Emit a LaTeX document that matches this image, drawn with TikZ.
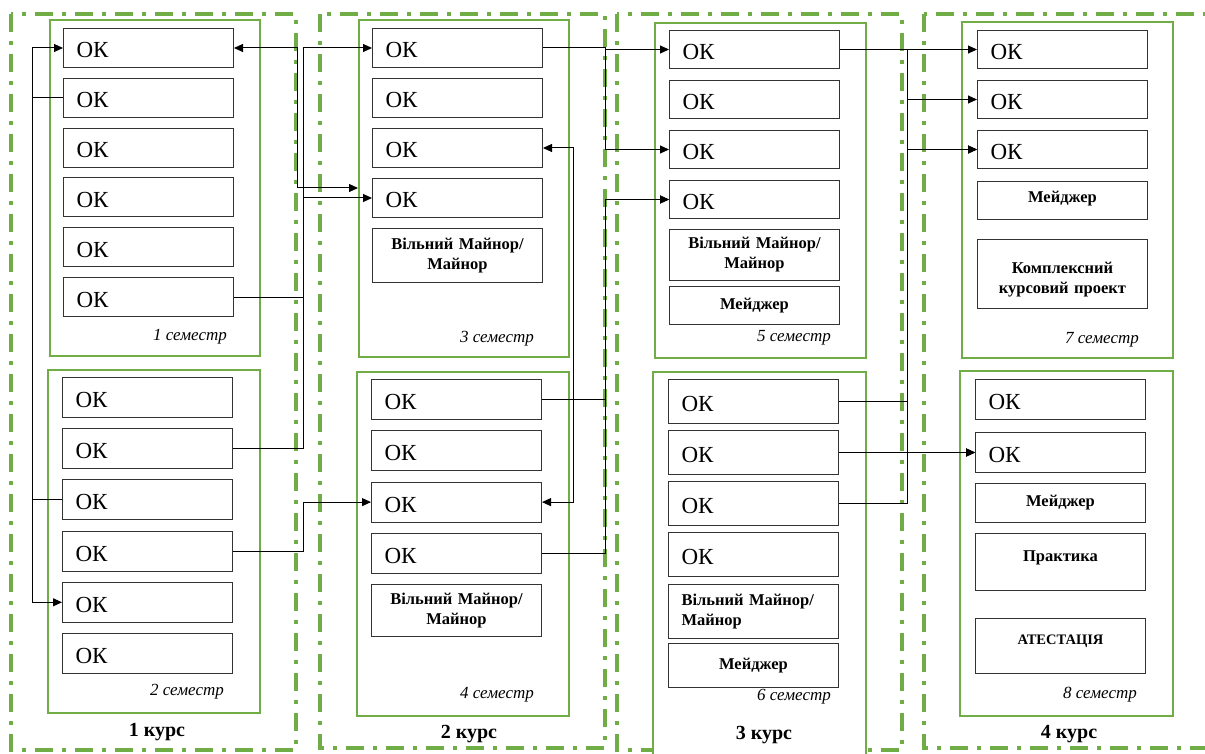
\documentclass[tikz,border=0pt]{standalone}
\usepackage{fontspec}
\setmainfont{Liberation Serif}
\usetikzlibrary{arrows.meta,positioning}

\definecolor{kursgreen}{HTML}{70AD47}

\begin{document}
\begin{tikzpicture}[
  x=1pt, y=-1pt,
  kurs/.style={draw=kursgreen, line width=3.5pt, dash pattern=on 18pt off 9pt on 4pt off 9pt},
  sem/.style={draw=kursgreen, line width=1.4pt, fill=white},
  okbox/.style={rectangle, draw=black!80, line width=1pt, minimum width=170pt, minimum height=39pt, inner xsep=13pt, text width=144pt, text height=20pt, text depth=0pt, align=left, font=\fontsize{23}{26}\selectfont},
  subj/.style={rectangle, draw=black!80, line width=1pt, minimum width=170pt, inner xsep=5pt, text width=160pt, align=center, font=\bfseries\fontsize{16.5}{20}\selectfont},
  semlabel/.style={font=\itshape\fontsize{17}{19}\selectfont},
  kurslabel/.style={font=\bfseries\fontsize{20}{22}\selectfont},
  arrow/.style={-{Triangle[length=9pt,width=8pt]}, line width=1pt},
  biarrow/.style={{Triangle[length=9pt,width=8pt]}-{Triangle[length=9pt,width=8pt]}, line width=1pt}
]
\useasboundingbox (0,0) rectangle (1205,754);
\clip (0,0) rectangle (1205,754);

% Courses
\draw[kurs] (11,14) rectangle (296,750);
\draw[kurs] (320,14) rectangle (605,748);
\draw[kurs] (617,14) rectangle (902,750);
\draw[kurs] (924,14) rectangle (1225,748);

% Semesters
\draw[sem] (50,20) rectangle (260,356);
\draw[sem] (48,370) rectangle (260,713);
\draw[sem] (359,20) rectangle (569,357);
\draw[sem] (357,372) rectangle (569,716);
\draw[sem] (655,23) rectangle (866,358);
\draw[sem] (653,372) rectangle (866,770);
\draw[sem] (962,22) rectangle (1173,358);
\draw[sem] (960,371) rectangle (1173,716);

% 1 semester
\node[okbox, anchor=north west] (s1a) at (63,28) {ОК};
\node[okbox, below=9.8pt of s1a] (s1b) {ОК};
\node[okbox, below=9.8pt of s1b] (s1c) {ОК};
\node[okbox, below=9.8pt of s1c] (s1d) {ОК};
\node[okbox, below=9.8pt of s1d] (s1e) {ОК};
\node[okbox, below=9.8pt of s1e] (s1f) {ОК};

% 2 semester
\node[okbox, minimum height=40pt, anchor=north west] (s2a) at (62,377) {ОК};
\node[okbox, minimum height=40pt, below=10.2pt of s2a] (s2b) {ОК};
\node[okbox, minimum height=40pt, below=10.2pt of s2b] (s2c) {ОК};
\node[okbox, minimum height=40pt, below=10.2pt of s2c] (s2d) {ОК};
\node[okbox, minimum height=40pt, below=10.2pt of s2d] (s2e) {ОК};
\node[okbox, minimum height=40pt, below=10.2pt of s2e] (s2f) {ОК};

% 3 semester
\node[okbox, anchor=north west] (s3a) at (372,28) {ОК};
\node[okbox, below=10pt of s3a] (s3b) {ОК};
\node[okbox, below=10pt of s3b] (s3c) {ОК};
\node[okbox, below=10pt of s3c] (s3d) {ОК};
\node[subj, minimum height=54pt, below=10pt of s3d] (s3v) {Вільний Майнор/\\Майнор};

% 4 semester
\node[okbox, minimum height=40pt, anchor=north west] (s4a) at (371,379) {ОК};
\node[okbox, minimum height=40pt, below=10.3pt of s4a] (s4b) {ОК};
\node[okbox, minimum height=40pt, below=10.3pt of s4b] (s4c) {ОК};
\node[okbox, minimum height=40pt, below=10.3pt of s4c] (s4d) {ОК};
\node[subj, minimum height=52pt, below=10pt of s4d] (s4v) {Вільний Майнор/\\Майнор};

% 5 semester
\node[okbox, minimum height=38pt, anchor=north west] (s5a) at (669,30) {ОК};
\node[okbox, minimum height=38pt, below=11pt of s5a] (s5b) {ОК};
\node[okbox, minimum height=38pt, below=11pt of s5b] (s5c) {ОК};
\node[okbox, minimum height=38pt, below=11pt of s5c] (s5d) {ОК};
\node[subj, minimum height=51pt, below=10pt of s5d] (s5v) {Вільний Майнор/\\Майнор};
\node[subj, minimum height=38pt, below=5pt of s5v] (s5m) {Мейджер};

% 6 semester
\node[okbox, minimum height=44pt, anchor=north west] (s6a) at (668,379) {ОК};
\node[okbox, minimum height=44pt, below=6pt of s6a] (s6b) {ОК};
\node[okbox, minimum height=44pt, below=6pt of s6b] (s6c) {ОК};
\node[okbox, minimum height=44pt, below=6pt of s6c] (s6d) {ОК};
\node[subj, minimum height=54pt, inner xsep=13pt, text width=144pt, align=left, below=7pt of s6d] (s6v) {Вільний Майнор/\\Майнор};
\node[subj, minimum height=44pt, below=4pt of s6v] (s6m) {Мейджер};

% 7 semester
\node[okbox, minimum height=38pt, anchor=north west] (s7a) at (977,30) {ОК};
\node[okbox, minimum height=38pt, below=11pt of s7a] (s7b) {ОК};
\node[okbox, minimum height=38pt, below=11pt of s7b] (s7c) {ОК};
\node[subj, minimum height=38pt, text depth=8pt, below=12pt of s7c] (s7m) {Мейджер};
\node[subj, minimum height=69pt, text depth=12pt, below=19pt of s7m] (s7k) {Комплексний\\курсовий проект};

% 8 semester
\node[okbox, minimum height=40pt, anchor=north west] (s8a) at (975,379) {ОК};
\node[okbox, minimum height=40pt, below=12pt of s8a] (s8b) {ОК};
\node[subj, minimum height=39pt, below=10pt of s8b] (s8m) {Мейджер};
\node[subj, minimum height=57pt, text depth=11pt, below=10pt of s8m] (s8p) {Практика};
\node[subj, minimum height=55pt, text depth=13pt, font=\bfseries\fontsize{14.5}{18}\selectfont, below=27pt of s8p] (s8t) {АТЕСТАЦІЯ};

% Labels
\node[semlabel] (l1) at (190,337) {1 семестр};
\node[semlabel] (l2) at (187,692) {2 семестр};
\node[semlabel] (l3) at (497,339) {3 семестр};
\node[semlabel] (l4) at (497,695) {4 семестр};
\node[semlabel] (l5) at (794,338) {5 семестр};
\node[semlabel] (l6) at (794,697) {6 семестр};
\node[semlabel] (l7) at (1102,340) {7 семестр};
\node[semlabel] (l8) at (1100,695) {8 семестр};
\node[kurslabel] (k1) at (157,732) {1 курс};
\node[kurslabel] (k2) at (469,734) {2 курс};
\node[kurslabel] (k3) at (764,735) {3 курс};
\node[kurslabel] (k4) at (1069,734) {4 курс};

% Bus lines
\coordinate (bus1) at (32,0);
\coordinate (bus2) at (297,0);
\coordinate (bus3) at (303,0);
\coordinate (bus4) at (573,0);
\coordinate (bus5) at (605,0);
\coordinate (bus6) at (907,0);
\coordinate (s3in) at (358,188);

% 1 course
\draw[arrow] (s1b.west) -- (s1b.west -| bus1) |- (s2e.west);
\draw[arrow] (s2c.west) -- (s2c.west -| bus1) |- (s1a.west);

% 1 course -> 2 course
\draw[biarrow] (s1a.east) -- (s1a.east -| bus2) |- (s3in);
\draw[arrow] (s1f.east) -- (s1f.east -| bus3) |- (s3a.west);
\draw[arrow] (s2b.east) -- (s2b.east -| bus3) |- (s3d.west);
\draw[arrow] (s2d.east) -- (s2d.east -| bus3) |- (s4c.west);
\draw[biarrow] (s3c.east) -- (s3c.east -| bus4) |- (s4c.east);

% 2 course -> 3 course
\draw[arrow] (s3a.east) -- (s3a.east -| bus5) |- (s5a.west);
\draw[arrow] (s3a.east) -- (s3a.east -| bus5) |- (s5c.west);
\draw[arrow] (s4a.east) -- (s4a.east -| bus5) |- (s5d.west);
\draw[arrow] (s4d.east) -- (s4d.east -| bus5) |- (s5d.west);

% 3 course -> 4 course
\draw[arrow] (s5a.east) -- (s5a.east -| bus6) |- (s7a.west);
\draw[arrow] (s5a.east) -- (s5a.east -| bus6) |- (s7b.west);
\draw[arrow] (s5a.east) -- (s5a.east -| bus6) |- (s7c.west);
\draw[arrow] (s6a.east) -- (s6a.east -| bus6) |- (s7c.west);
\draw[arrow] (s6a.east) -- (s6a.east -| bus6) |- (s8b.west);
\draw[arrow] (s6b.east) -- (s6b.east -| bus6) |- (s8b.west);
\draw[arrow] (s6c.east) -- (s6c.east -| bus6) |- (s8b.west);

\end{tikzpicture}
\end{document}
